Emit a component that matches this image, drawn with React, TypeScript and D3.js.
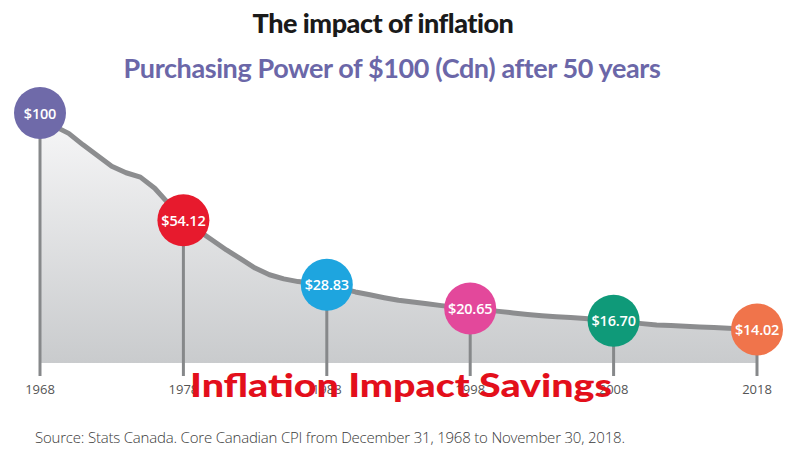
import React from "react";
import * as d3 from "d3";

// Yearly purchasing power of $100 (Cdn), 1968 = $100
const years = [
  1968, 1969, 1970, 1971, 1972, 1973, 1974, 1975, 1976, 1977,
  1978, 1979, 1980, 1981, 1982, 1983, 1984, 1985, 1986, 1987,
  1988, 1989, 1990, 1991, 1992, 1993, 1994, 1995, 1996, 1997,
  1998, 1999, 2000, 2001, 2002, 2003, 2004, 2005, 2006, 2007,
  2008, 2009, 2010, 2011, 2012, 2013, 2014, 2015, 2016, 2017, 2018,
];
const values = [
  100, 97, 93.5, 88, 83, 78, 75, 73, 68, 61,
  54.12, 50, 46, 42, 38.5, 35, 32.5, 31, 30, 29.4,
  28.83, 27.5, 26.3, 25.3, 24.3, 23.4, 22.8, 22.2, 21.6, 21.1,
  20.65, 20.2, 19.7, 19.2, 18.7, 18.3, 18.0, 17.7, 17.4, 17.0,
  16.7, 16.2, 15.8, 15.4, 15.2, 15.0, 14.8, 14.6, 14.4, 14.2, 14.02,
];

const milestoneYears = [1968, 1978, 1988, 1998, 2008, 2018];
const milestoneValues = [100, 54.12, 28.83, 20.65, 16.7, 14.02];
const milestoneLabels = ["$100", "$54.12", "$28.83", "$20.65", "$16.70", "$14.02"];
const tickLabels = ["1968", "1978", "1988", "1998", "2008", "2018"];
const milestoneColors = ["#6f6aa9", "#e71a2d", "#1ea5df", "#e3489b", "#0f9a79", "#f0744b"];

const title = "The impact of inflation";
const subtitle = "Purchasing Power of $100 (Cdn) after 50 years";
const overlay = "Inflation Impact Savings";
const source = "Source: Stats Canada. Core Canadian CPI from December 31, 1968 to November 30, 2018.";

export default function App() {
  const W = 800;
  const H = 470;
  const x = d3.scaleLinear().domain([1968, 2018]).range([40, 757]);
  const y = d3.scalePow().exponent(0.75).domain([5, 100]).range([363, 120]);
  const base = y.range()[0];
  const pts = years.map((yr, i) => [yr, values[i]] as [number, number]);
  const line = d3
    .line<[number, number]>()
    .x((d) => x(d[0]))
    .y((d) => y(d[1]));
  const area = d3
    .area<[number, number]>()
    .x((d) => x(d[0]))
    .y0(base)
    .y1((d) => y(d[1]));

  return (
    <svg
      width={W}
      height={H}
      viewBox={`0 0 ${W} ${H}`}
      style={{ position: "absolute", left: 0, top: 0, background: "#fff" }}
    >
      <defs>
        <linearGradient id="areaGrad" gradientUnits="userSpaceOnUse" x1="0" y1="120" x2="0" y2="363">
          <stop offset="0" stopColor="#f6f6f7" />
          <stop offset="1" stopColor="#c9cbcd" />
        </linearGradient>
      </defs>
      <rect width={W} height={H} fill="#fff" />
      <text
        x={383}
        y={33}
        textAnchor="middle"
        fontFamily="Lato, 'Open Sans', sans-serif"
        fontWeight={900}
        fontSize={27}
        fill="#1a1a1a"
        letterSpacing={-0.5}
      >
        {title}
      </text>
      <text
        x={392}
        y={78}
        textAnchor="middle"
        fontFamily="Lato, 'Open Sans', sans-serif"
        fontWeight={700}
        fontSize={27}
        fill="#6b67a8"
        letterSpacing={-0.4}
      >
        {subtitle}
      </text>

      <path d={area(pts) || ""} fill="url(#areaGrad)" />
      <path
        d={line(pts) || ""}
        fill="none"
        stroke="#8c8d8f"
        strokeWidth={5}
        strokeLinejoin="round"
        strokeLinecap="round"
      />

      {milestoneYears.map((yr, i) => (
        <line
          key={"d" + yr}
          x1={x(yr)}
          x2={x(yr)}
          y1={y(milestoneValues[i])}
          y2={376}
          stroke="#86888a"
          strokeWidth={3}
        />
      ))}

      {milestoneYears.map((yr, i) => (
        <text
          key={"t" + yr}
          x={x(yr)}
          y={394}
          textAnchor="middle"
          fontFamily="'Open Sans', sans-serif"
          fontSize={13}
          fill="#555"
        >
          {tickLabels[i]}
        </text>
      ))}

      {milestoneYears.map((yr, i) => (
        <g key={"c" + yr} transform={`translate(${x(yr)},${y(milestoneValues[i]) - (i === 0 ? 7 : 0)})`}>
          <circle r={26} fill={milestoneColors[i]} />
          <text
            y={5.5}
            textAnchor="middle"
            fontFamily="'Open Sans', sans-serif"
            fontWeight={600}
            fontSize={14.5}
            fill="#fff"
            letterSpacing={-0.2}
          >
            {milestoneLabels[i]}
          </text>
        </g>
      ))}

      <text
        x={401}
        y={397}
        textAnchor="middle"
        fontFamily="Lato, 'Noto Sans', sans-serif"
        fontWeight={900}
        fontSize={33}
        fill="#e30f1b"
        textLength={422}
        lengthAdjust="spacingAndGlyphs"
      >
        {overlay}
      </text>

      <text
        x={35}
        y={443}
        fontFamily="'Open Sans', sans-serif"
        fontWeight={300}
        fontSize={15}
        fill="#3a3a3a"
        letterSpacing={-0.2}
      >
        {source}
      </text>
    </svg>
  );
}
